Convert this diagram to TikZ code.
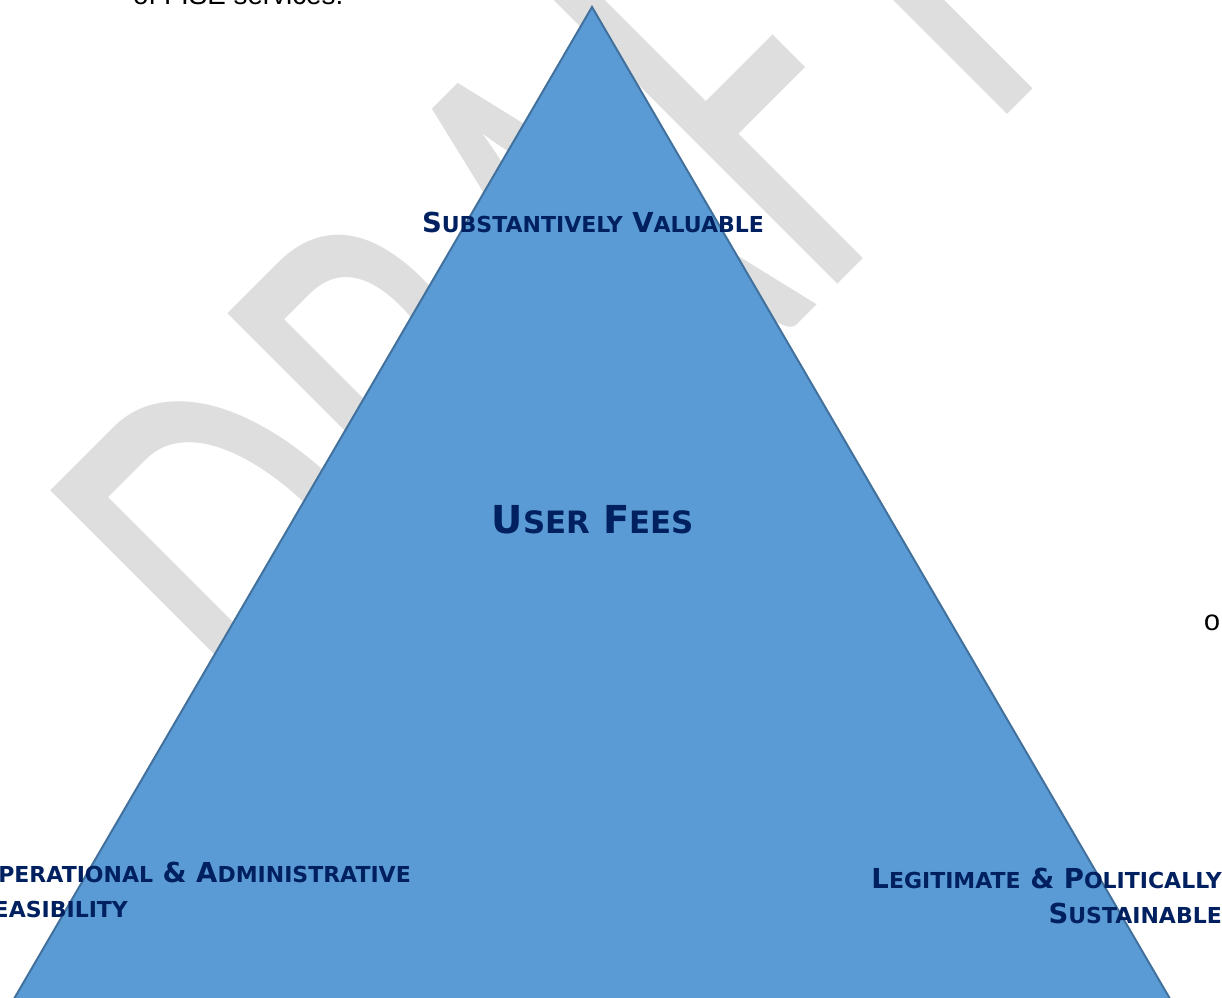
\documentclass[tikz,border=0pt]{standalone}
\usepackage{fontspec}
\setmainfont{DejaVu Sans}
\newfontfamily\wmfont{Carlito}
\newfontfamily\bodyfont{Liberation Sans}
\newfontfamily\bulletfont{Liberation Mono}
\usepackage{graphicx}
\usetikzlibrary{positioning}

\definecolor{triblue}{HTML}{5B9BD5}
\definecolor{triedge}{HTML}{41719C}
\definecolor{navy}{HTML}{002060}
\definecolor{wmgray}{HTML}{DEDEDE}

\newcommand{\sml}[1]{\scalebox{0.8}{#1}}

\begin{document}
\begin{tikzpicture}[x=1pt, y=1pt,
    wm/.style={text=wmgray, font=\wmfont\fontsize{405}{405}\selectfont, inner sep=0pt},
    tri/.style={fill=triblue, draw=triedge, line width=2pt, line join=miter},
    lbl/.style={text=navy, font=\bfseries\fontsize{27.5}{35}\selectfont, inner sep=0pt},
    title/.style={text=navy, font=\bfseries\fontsize{38.5}{38.5}\selectfont, inner sep=0pt}]
    \useasboundingbox (0,0) rectangle (1222,997);
    \clip (0,0) rectangle (1222,997);

    % watermark
    \node [wm, rotate=45, anchor=base west] (draft) at (321,196) {\scalebox{1}[1.58]{DRAFT}};

    \node [font=\bodyfont\fontsize{27.8}{30}\selectfont, inner sep=0pt, anchor=base west] (services) at (133,992) {of FISE services.};

    % pyramid
    \coordinate (apex) at (592,990);
    \coordinate (left) at (7.5,-13);
    \coordinate (right) at (1176.5,-13);
    \draw [tri] (apex) -- (right) -- (left) -- cycle;

    \node [lbl, anchor=base] (valuable) at (593,764) {S\sml{UBSTANTIVELY} V\sml{ALUABLE}};
    \node [title, anchor=base] (fees) at (593,464) {U\sml{SER} F\sml{EES}};
    \node [lbl, anchor=base east, align=left] (feasible) at (411,80) {O\sml{PERATIONAL} \& A\sml{DMINISTRATIVE}\\F\sml{EASIBILITY}};
    \node [lbl, anchor=base east, align=right] (legitimate) at (1222,74) {L\sml{EGITIMATE} \& P\sml{OLITICALLY}\\S\sml{USTAINABLE}};

    \node [font=\bulletfont\fontsize{29}{29}\selectfont, inner sep=0pt] (bullet) at (1212,374) {o};
\end{tikzpicture}
\end{document}
